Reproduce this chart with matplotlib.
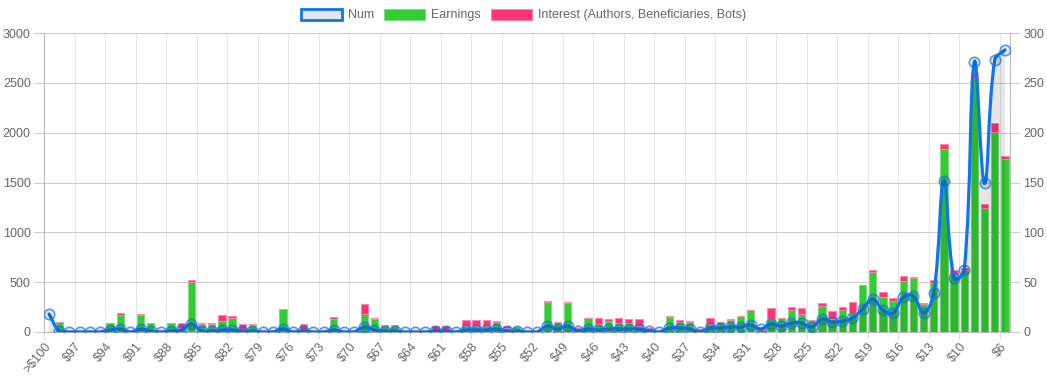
import numpy as np
import matplotlib
matplotlib.use("Agg")
import matplotlib.pyplot as plt
from matplotlib.patches import Patch, PathPatch
from matplotlib.path import Path

# ---------------- data ----------------
labels = [">$100"] + [f"${k}" for k in range(99, 5, -1)]

earnings = [0, 97, 0, 0, 0, 0, 90, 167, 0, 170,
            88, 0, 88, 40, 502, 85, 85, 107, 144, 30,
            75, 0, 0, 230, 0, 25, 0, 0, 134, 0,
            0, 181, 130, 57, 57, 0, 0, 0, 15, 15,
            0, 63, 65, 65, 105, 40, 50, 0, 0, 301,
            98, 288, 15, 138, 80, 110, 93, 87, 63, 10,
            0, 150, 104, 100, 10, 80, 97, 120, 157, 218,
            20, 127, 142, 217, 177, 122, 261, 128, 221, 187,
            468, 607, 348, 311, 513, 538, 282, 488, 1833, 570,
            620, 2545, 1240, 2010, 1738]

interest = [0, 0, 0, 0, 0, 0, 4, 23, 0, 14,
            2, 0, 2, 47, 20, 2, 2, 63, 20, 50,
            2, 0, 0, 2, 0, 55, 0, 0, 13, 0,
            0, 100, 14, 13, 13, 0, 0, 0, 48, 45,
            0, 57, 55, 55, 5, 20, 3, 0, 0, 10,
            2, 13, 30, 2, 57, 24, 44, 40, 64, 30,
            0, 10, 16, 8, 20, 60, 3, 14, 3, 2,
            0, 111, 2, 30, 64, 2, 33, 82, 26, 112,
            3, 17, 56, 27, 52, 17, 8, 34, 50, 52,
            27, 50, 44, 83, 30]

num = [18, 1, 0, 0, 0, 0, 2, 3, 0, 3,
       1, 0, 1, 2, 8, 1, 1, 2, 2, 1,
       1, 0, 0, 3, 0, 1, 0, 0, 2, 0,
       0, 5, 2, 1, 1, 0, 0, 0, 1, 1,
       0, 2, 2, 2, 3, 1, 1, 0, 0, 6,
       3, 6, 1, 3, 2, 3, 3, 3, 3, 1,
       0, 4, 4, 3, 0, 4, 4, 5, 5, 7,
       3, 8, 6, 9, 9, 5, 13, 10, 11, 14,
       23, 33, 22, 19, 35, 36, 19, 39, 152, 54,
       62, 271, 149, 273, 283]

# ---------------- style ----------------
plt.rcParams["font.family"] = ["Liberation Sans", "DejaVu Sans"]
TXT = "#666666"
GREEN, GREEN_E = "#33cc33", "#80dd80"
PINK, PINK_E = "#ff3377", "#ff88aa"
BLUE = "#0f75ec"

W, H = 1047, 387
L, R, T, B = 44, 1010, 33, 332
fig = plt.figure(figsize=(W / 100, H / 100), dpi=100)
ax = fig.add_axes([L / W, 1 - B / H, (R - L) / W, (B - T) / H])
ax2 = ax.twinx()

n = len(labels)
x = np.arange(n)
ax.bar(x, earnings, width=0.72, color=GREEN, edgecolor=GREEN_E, lw=0.75, zorder=2)
ax.bar(x, interest, bottom=earnings, width=0.72, color=PINK, edgecolor=PINK_E,
       lw=0.75, zorder=2)

ax.set_xlim(-0.5, n - 0.5)
ax.set_ylim(0, 3000)
ax2.set_ylim(0, 300)

# ---------------- Chart.js-like spline (tension 0.4, in pixel space) --------
def spline_verts(xs, ys, sx, sy, t=0.4, lo=0, hi=300):
    px = np.asarray(xs, float) * sx
    py = np.asarray(ys, float) * sy
    m = len(px)
    cin, cout = [], []
    for i in range(m):
        a, b = max(i - 1, 0), min(i + 1, m - 1)
        d01 = np.hypot(px[i] - px[a], py[i] - py[a])
        d12 = np.hypot(px[b] - px[i], py[b] - py[i])
        tot = d01 + d12
        s01 = d01 / tot if tot else 0.0
        s12 = d12 / tot if tot else 0.0
        dx, dy = px[b] - px[a], py[b] - py[a]
        cin.append((px[i] - t * s01 * dx, py[i] - t * s01 * dy))
        cout.append((px[i] + t * s12 * dx, py[i] + t * s12 * dy))
    clip = lambda v: min(max(v, lo), hi)
    verts = [(xs[0], ys[0])]
    codes = [Path.MOVETO]
    for i in range(m - 1):
        c1, c2 = cout[i], cin[i + 1]
        verts += [(c1[0] / sx, clip(c1[1] / sy)), (c2[0] / sx, clip(c2[1] / sy)),
                  (xs[i + 1], ys[i + 1])]
        codes += [Path.CURVE4] * 3
    return verts, codes

cw = (R - L) / n
verts, codes = spline_verts(x, num, cw, (B - T) / 300.0)
fill_v = verts + [(x[-1], 0), (x[0], 0), verts[0]]
fill_c = codes + [Path.LINETO, Path.LINETO, Path.CLOSEPOLY]
ax2.add_patch(PathPatch(Path(fill_v, fill_c), facecolor=(0, 0, 0, 0.1),
                        edgecolor="none", zorder=1))
ax2.add_patch(PathPatch(Path(verts, codes), facecolor="none", edgecolor=BLUE,
                        lw=2.3, zorder=2, capstyle="round", joinstyle="round"))
ax2.plot(x, num, "o", ms=7.5, mfc=(0, 0, 0, 0.1), mec=(0.06, 0.46, 0.93, 0.7),
         mew=1.2, zorder=3)

# ---------------- axes / grid ----------------
tick_idx = list(range(0, 91, 3)) + [94]
ax.set_xticks(tick_idx)
ax.set_xticklabels([labels[i] for i in tick_idx], rotation=50, ha="right",
                   va="center", rotation_mode="anchor")
ax.set_xticks([i - 0.5 for i in tick_idx], minor=True)
ax.tick_params(axis="x", which="major", length=0, pad=9, labelsize=9, labelcolor=TXT)
ax.tick_params(axis="x", which="minor", length=5, color="#dddddd", width=0.75)
ax.grid(which="minor", axis="x", color="#e6e6e6", lw=0.75, zorder=0)

ax.set_yticks(np.arange(0, 3001, 500))
ax.tick_params(axis="y", length=7.5, color="#cccccc", width=0.75, pad=2,
               labelsize=9, labelcolor=TXT)
ax.grid(which="major", axis="y", color="#cccccc", lw=0.75, zorder=0)
ax2.set_yticks(np.arange(0, 301, 50))
ax2.tick_params(axis="y", length=7.5, color="#cccccc", width=0.75, pad=2,
                labelsize=9, labelcolor=TXT)
ax.set_axisbelow(True)

for a in (ax, ax2):
    a.spines["top"].set_visible(False)
    for s in ("left", "right", "bottom"):
        a.spines[s].set_color("#bbbbbb")
        a.spines[s].set_linewidth(0.75)

# ---------------- legend ----------------
handles = [Patch(facecolor="#e6e6e6", edgecolor=BLUE, lw=2.0, label="Num"),
           Patch(facecolor=GREEN, edgecolor=GREEN_E, lw=0.75, label="Earnings"),
           Patch(facecolor=PINK, edgecolor=PINK_E, lw=0.75,
                 label="Interest (Authors, Beneficiaries, Bots)")]
leg = fig.legend(handles=handles, loc="center", bbox_to_anchor=(0.5, 1 - 15 / H),
                 ncol=3, frameon=False, fontsize=9, handlelength=3.3,
                 handleheight=1.0, handletextpad=0.5, columnspacing=0.75,
                 borderaxespad=0)
for t in leg.get_texts():
    t.set_color(TXT)

fig.savefig("out.png", dpi=100)
